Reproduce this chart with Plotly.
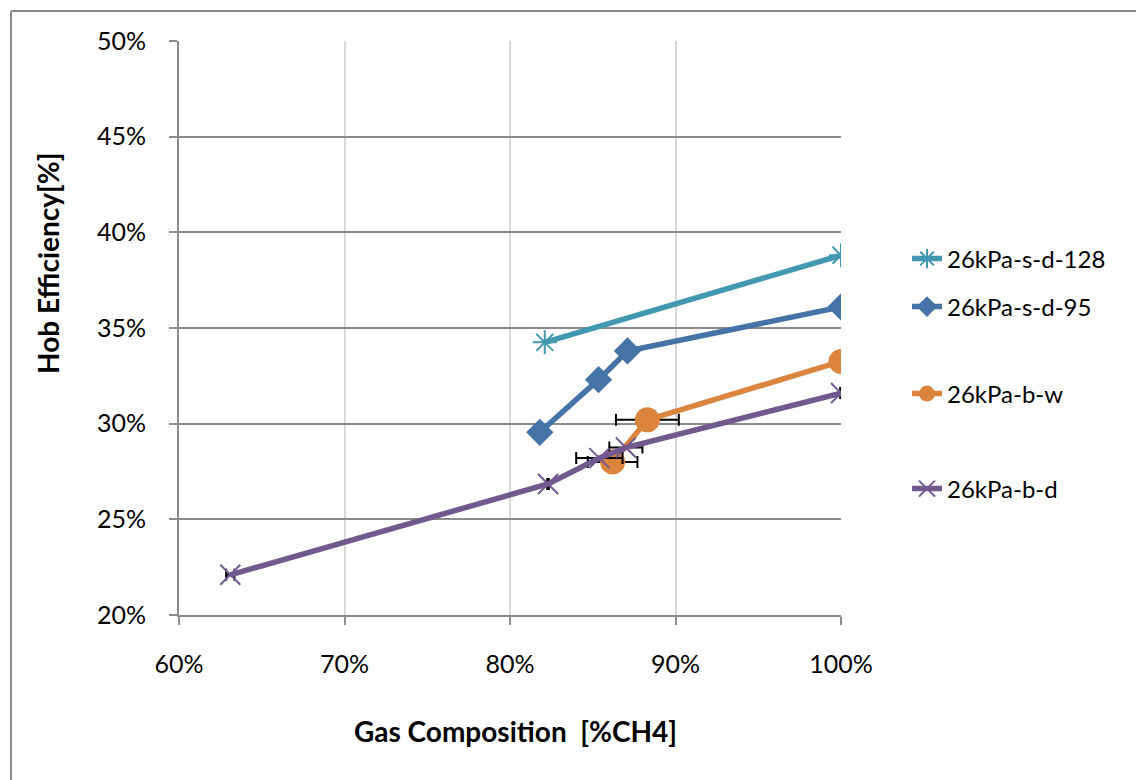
import plotly.graph_objects as go

# Data (percent units)
names = ["26kPa-s-d-128", "26kPa-s-d-95", "26kPa-b-w", "26kPa-b-d"]

x_sd128 = [82.1, 100.0]
y_sd128 = [34.25, 38.8]

x_sd95 = [81.8, 85.35, 87.1, 100.0]
y_sd95 = [29.55, 32.3, 33.8, 36.1]

x_bw = [86.2, 88.3, 100.0]
y_bw = [28.0, 30.2, 33.25]
xerr_bw = [1.5, 1.9, 0.0]

x_bd = [63.1, 82.3, 85.4, 87.0, 100.0]
y_bd = [22.1, 26.85, 28.2, 28.75, 31.6]
xerr_bd = [0.25, 0.05, 1.4, 1.0, 0.05]

x_ticks = [60, 70, 80, 90, 100]
x_ticklabels = ["60%", "70%", "80%", "90%", "100%"]
y_ticks = [20, 25, 30, 35, 40, 45, 50]
y_ticklabels = ["20%", "25%", "30%", "35%", "40%", "45%", "50%"]

x_title = "Gas Composition  [%CH4]"
y_title = "Hob Efficiency[%]"

colors = ["#4198AF", "#4572A7", "#DB843D", "#71588F"]

FONT = "Lato"

fig = go.Figure()

fig.add_trace(go.Scatter(
    x=x_sd128, y=y_sd128, name=names[0], mode="lines+markers",
    line=dict(color=colors[0], width=5.5),
    marker=dict(symbol="asterisk-open", size=20, color=colors[0],
                line=dict(color=colors[0], width=2)),
    legend="legend",
))
fig.add_trace(go.Scatter(
    x=x_sd95, y=y_sd95, name=names[1], mode="lines+markers",
    line=dict(color=colors[1], width=5.5),
    marker=dict(symbol="diamond", size=21, color=colors[1]),
    legend="legend2",
))
fig.add_trace(go.Scatter(
    x=x_bw, y=y_bw, name=names[2], mode="lines+markers",
    line=dict(color=colors[2], width=5.5),
    marker=dict(symbol="circle", size=25, color=colors[2]),
    error_x=dict(type="data", array=xerr_bw, color="black", thickness=2, width=6),
    legend="legend3",
))
fig.add_trace(go.Scatter(
    x=x_bd, y=y_bd, name=names[3], mode="lines+markers",
    line=dict(color=colors[3], width=5.5),
    marker=dict(symbol="x-thin-open", size=20, color=colors[3],
                line=dict(color=colors[3], width=2)),
    error_x=dict(type="data", array=xerr_bd, color="black", thickness=2, width=6),
    legend="legend4",
))

OFF = 7  # page offset of the plot div
W, H = 1144, 780
L, T = 178 - OFF, 40 - OFF
R = W - (840 - OFF)
B = H - (614 - OFF)


def ly(py):
    return (614 - py) / 574.0


def lx(px):
    return (px - 178) / 662.0


leg_common = dict(x=lx(906), xanchor="left", yanchor="middle",
                  font=dict(family=FONT, size=24, color="black"),
                  bgcolor="rgba(0,0,0,0)", borderwidth=0)

fig.update_layout(
    width=W, height=H,
    margin=dict(l=L, r=R, t=T, b=B),
    paper_bgcolor="white", plot_bgcolor="white",
    font=dict(family=FONT, size=25, color="black"),
    showlegend=True,
    legend=dict(y=ly(258), visible=True, **leg_common),
    legend2=dict(y=ly(306), visible=True, **leg_common),
    legend3=dict(y=ly(393), visible=True, **leg_common),
    legend4=dict(y=ly(488), visible=True, **leg_common),
    xaxis=dict(
        range=[60, 100], tickvals=x_ticks, ticktext=x_ticklabels,
        showgrid=True, gridcolor="#D9D9D9", gridwidth=2,
        showline=True, linecolor="#8C8C8C", linewidth=2,
        ticks="outside", ticklen=8, tickcolor="#8C8C8C", tickwidth=2,
        ticklabelstandoff=18, zeroline=False,
        tickfont=dict(family=FONT, size=25, color="black"),
    ),
    yaxis=dict(
        range=[20, 50], tickvals=y_ticks, ticktext=y_ticklabels,
        showgrid=True, gridcolor="#8C8C8C", gridwidth=2,
        showline=True, linecolor="#8C8C8C", linewidth=2,
        ticks="outside", ticklen=8, tickcolor="#8C8C8C", tickwidth=2,
        ticklabelstandoff=18, zeroline=False,
        tickfont=dict(family=FONT, size=25, color="black"),
    ),
    annotations=[
        dict(text="<b>" + x_title + "</b>", xref="paper", yref="paper",
             x=lx(514), y=ly(730), xanchor="center", yanchor="middle",
             showarrow=False, font=dict(family=FONT, size=28, color="black")),
        dict(text="<b>" + y_title + "</b>", xref="paper", yref="paper",
             x=lx(47), y=ly(262), xanchor="center", yanchor="middle",
             textangle=-90,
             showarrow=False, font=dict(family=FONT, size=28, color="black")),
    ],
    shapes=[
        dict(type="line", xref="paper", yref="paper",
             x0=lx(10), x1=lx(10), y0=ly(785), y1=ly(10),
             line=dict(color="#8C8C8C", width=2), layer="above"),
        dict(type="line", xref="paper", yref="paper",
             x0=lx(10), x1=lx(1150), y0=ly(10), y1=ly(10),
             line=dict(color="#8C8C8C", width=2), layer="above"),
    ],
)

fig.write_html("out.html")
